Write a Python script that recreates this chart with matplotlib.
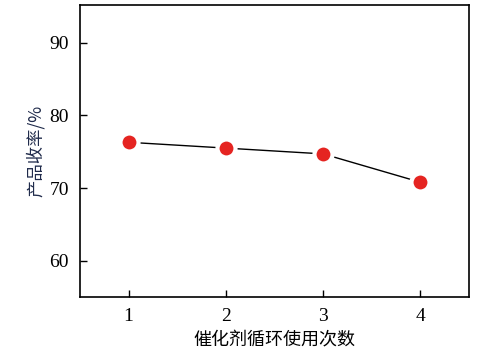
import matplotlib.pyplot as plt

cycles = [1, 2, 3, 4]
yields = [76.3, 75.5, 74.7, 70.8]

x_label = '催化剂循环使用次数'
y_label = '产品收率/%'

plt.rcParams['font.family'] = ['Liberation Serif', 'Noto Sans CJK SC']

fig = plt.figure(figsize=(4.89, 3.52), dpi=100)
ax = fig.add_axes([80 / 489, 55 / 352, 389 / 489, 292 / 352])

ax.plot(cycles, yields, color='black', linewidth=1.0, marker='o',
        markersize=13, markerfacecolor='#e52421', markeredgecolor='white',
        markeredgewidth=3)

ax.set_xlim(0.5, 4.5)
ax.set_ylim(55, 95.2)
ax.set_xticks(cycles)
ax.set_yticks([60, 70, 80, 90])
ax.tick_params(direction='in', length=5, width=1, labelsize=14, pad=8)
for s in ax.spines.values():
    s.set_linewidth(1.2)

ax.set_xlabel(x_label, fontsize=13, family=['Noto Sans CJK SC'], labelpad=4)
ax.set_ylabel(y_label, fontsize=12.5, family=['Noto Sans CJK SC'],
              color='#1f2a4a', labelpad=3)

plt.savefig('out.png', dpi=100)
